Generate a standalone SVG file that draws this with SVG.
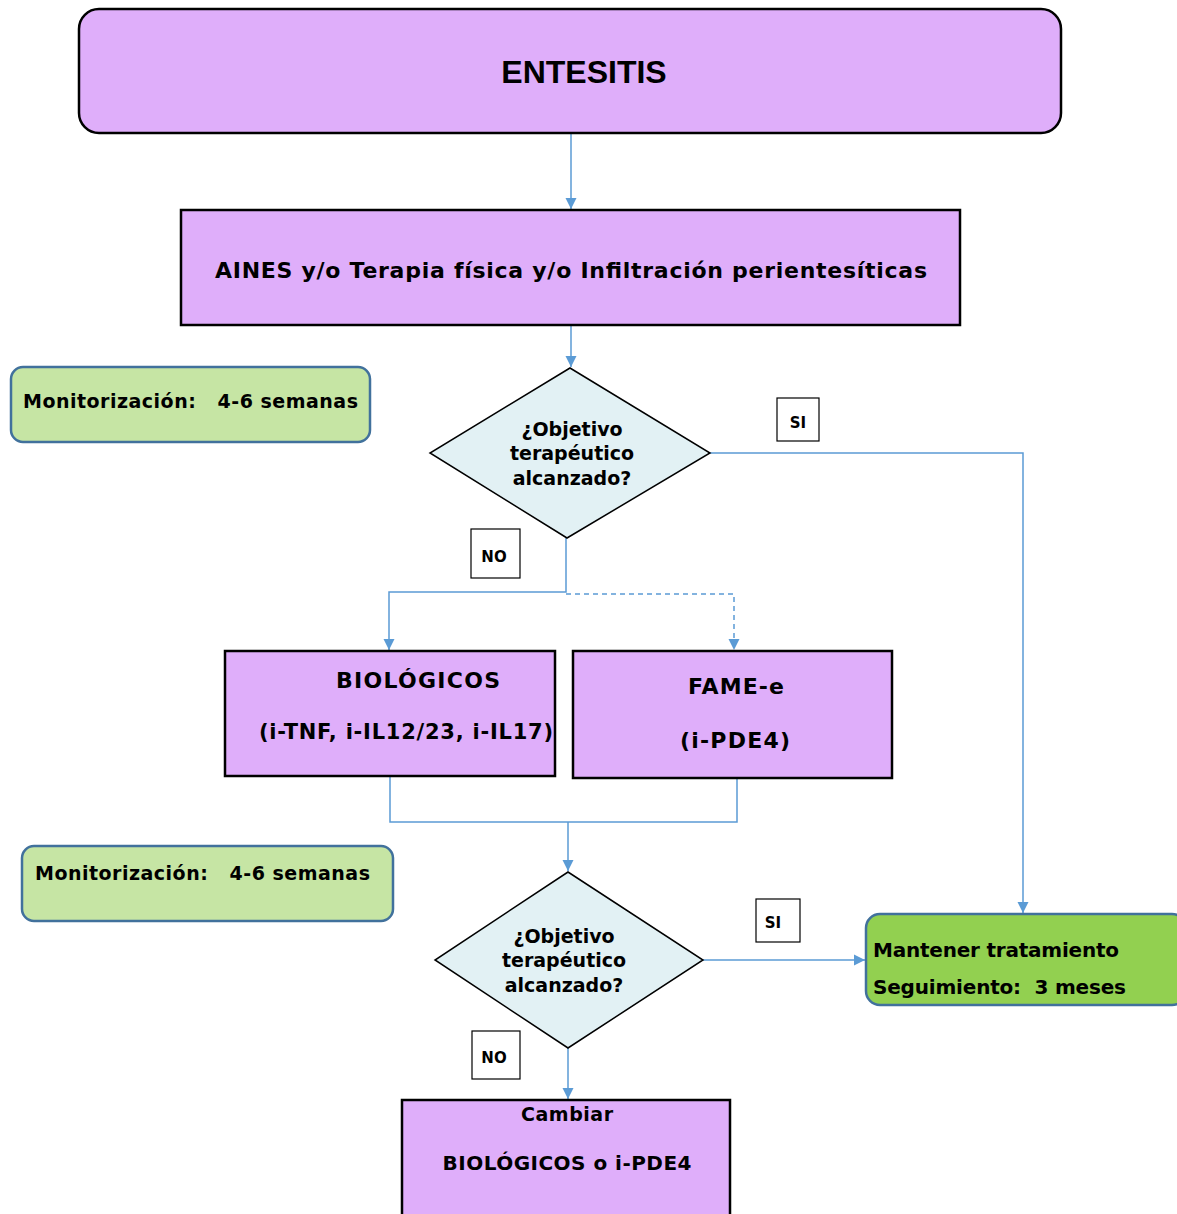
<svg xmlns="http://www.w3.org/2000/svg" width="1177" height="1214" viewBox="0 0 1177 1214">
<style>
.purple{fill:#dfaefa;stroke:#000;stroke-width:2.5}
.dia{fill:#e2f1f4;stroke:#000;stroke-width:1.5}
.mon{fill:#c6e5a4;stroke:#41719c;stroke-width:2.5}
.keep{fill:#92d050;stroke:#41719c;stroke-width:2.5}
.lbl{fill:#fff;stroke:#000;stroke-width:1.2}
.t{font-family:"DejaVu Sans",Verdana,sans-serif;font-weight:bold;fill:#000}
.c{text-anchor:middle}
.conn{fill:none;stroke:#5b9bd5;stroke-width:1.5}
.dash{stroke-dasharray:5,4}
</style>
<defs>
<marker id="arr" viewBox="0 0 10 10" refX="10" refY="5" markerWidth="11" markerHeight="12" markerUnits="userSpaceOnUse" orient="auto"><path d="M0,0 L10,5 L0,10 z" fill="#5b9bd5"/></marker>
</defs>
<g id="connectors">
<path class="conn" d="M571,133 V209" marker-end="url(#arr)"/>
<path class="conn" d="M571,325 V367" marker-end="url(#arr)"/>
<path class="conn" d="M710,453 H1023 V913" marker-end="url(#arr)"/>
<path class="conn" d="M566,538 V592 H389 V650" marker-end="url(#arr)"/>
<path class="conn dash" d="M566,594 H734 V650" marker-end="url(#arr)"/>
<path class="conn" d="M390,776 V822 H737 V778"/>
<path class="conn" d="M568,822 V871" marker-end="url(#arr)"/>
<path class="conn" d="M703,960 H865" marker-end="url(#arr)"/>
<path class="conn" d="M568,1048 V1099" marker-end="url(#arr)"/>
</g>
<g id="entesitis">
<rect class="purple" x="79" y="9" width="982" height="124" rx="20"/>
<text x="584" y="83" font-family="'Liberation Sans',Arial,sans-serif" font-weight="bold" font-size="32" text-anchor="middle">ENTESITIS</text>
</g>
<g id="aines">
<rect class="purple" x="181" y="210" width="779" height="115"/>
<text class="t c" x="571" y="278" font-size="22" textLength="712" lengthAdjust="spacing">AINES y/o Terapia física y/o Infiltración perientesíticas</text>
</g>
<g id="monitor1">
<rect class="mon" x="11" y="367" width="359" height="75" rx="12"/>
<text class="t" x="23" y="408" font-size="19" textLength="335" lengthAdjust="spacing" xml:space="preserve">Monitorización:   4-6 semanas</text>
</g>
<g id="decision1">
<polygon class="dia" points="570,368 710,453 567,538 430,453"/>
<text class="t c" x="572" y="436" font-size="19">¿Objetivo</text>
<text class="t c" x="572" y="460" font-size="19">terapéutico</text>
<text class="t c" x="572" y="485" font-size="19">alcanzado?</text>
</g>
<g id="si1">
<rect class="lbl" x="777" y="398" width="42" height="43"/>
<text class="t c" x="798" y="428" font-size="15">SI</text>
</g>
<g id="no1">
<rect class="lbl" x="471" y="529" width="49" height="49"/>
<text class="t c" x="494" y="562" font-size="15">NO</text>
</g>
<g id="biologicos">
<rect class="purple" x="225" y="651" width="330" height="125"/>
<text class="t c" x="418" y="688" font-size="22" textLength="164" lengthAdjust="spacing">BIOLÓGICOS</text>
<text class="t c" x="406" y="739" font-size="21" textLength="294" lengthAdjust="spacing">(i-TNF, i-IL12/23, i-IL17)</text>
</g>
<g id="fame">
<rect class="purple" x="573" y="651" width="319" height="127"/>
<text class="t c" x="736" y="694" font-size="22" textLength="96" lengthAdjust="spacing">FAME-e</text>
<text class="t c" x="735" y="748" font-size="22" textLength="110" lengthAdjust="spacing">(i-PDE4)</text>
</g>
<g id="monitor2">
<rect class="mon" x="22" y="846" width="371" height="75" rx="12"/>
<text class="t" x="35" y="880" font-size="19" textLength="335" lengthAdjust="spacing" xml:space="preserve">Monitorización:   4-6 semanas</text>
</g>
<g id="decision2">
<polygon class="dia" points="568,872 703,960 568,1048 435,960"/>
<text class="t c" x="564" y="943" font-size="19">¿Objetivo</text>
<text class="t c" x="564" y="967" font-size="19">terapéutico</text>
<text class="t c" x="564" y="992" font-size="19">alcanzado?</text>
</g>
<g id="si2">
<rect class="lbl" x="756" y="899" width="44" height="43"/>
<text class="t c" x="773" y="928" font-size="15">SI</text>
</g>
<g id="mantener">
<rect class="keep" x="866" y="914" width="320" height="91" rx="14"/>
<text class="t" x="873" y="957" font-size="20" textLength="246" lengthAdjust="spacing">Mantener tratamiento</text>
<text class="t" x="873" y="994" font-size="20" textLength="253" lengthAdjust="spacing" xml:space="preserve">Seguimiento:  3 meses</text>
</g>
<g id="no2">
<rect class="lbl" x="472" y="1031" width="48" height="48"/>
<text class="t c" x="494" y="1063" font-size="15">NO</text>
</g>
<g id="cambiar">
<rect class="purple" x="402" y="1100" width="328" height="120"/>
<text class="t c" x="567" y="1121" font-size="19" textLength="92" lengthAdjust="spacing">Cambiar</text>
<text class="t c" x="567" y="1170" font-size="20" textLength="249" lengthAdjust="spacing">BIOLÓGICOS o i-PDE4</text>
</g>
</svg>
